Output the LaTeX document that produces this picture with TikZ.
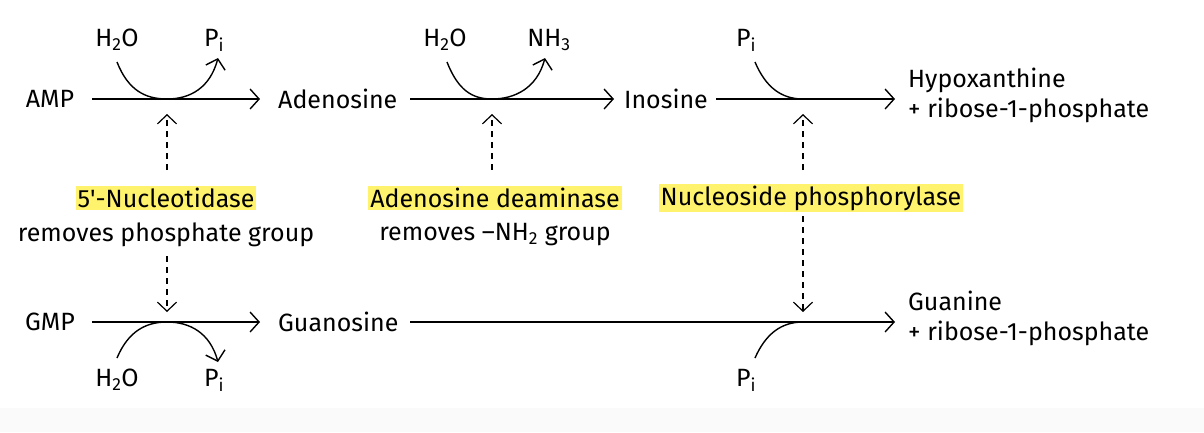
\documentclass[tikz,border=0pt]{standalone}
\usepackage{fontspec}
\setmainfont{Fira Sans}
\usetikzlibrary{arrows.meta}
\definecolor{hl}{HTML}{FFF36E}
\newcommand{\sbs}[1]{\textsubscript{#1}}
\begin{document}
\begin{tikzpicture}[x=1pt,y=-1pt,
  every node/.style={font=\fontsize{25}{30}\selectfont,inner sep=2pt},
  arr/.style={line width=1.4pt,-{Straight Barb[length=9pt,width=20pt,line width=1.4pt]}},
  ln/.style={line width=1.4pt},
  dsh/.style={line width=1.2pt,dash pattern=on 6pt off 5pt,-{Straight Barb[length=9pt,width=19pt,line width=1.2pt]}},
  hlb/.style={fill=hl,inner sep=2pt}]
\useasboundingbox (0,0) rectangle (1204,432);
\fill[white] (0,0) rectangle (1204,432);
\fill[black!2] (0,408) rectangle (1204,432);
% row 1
\node (amp) at (50,99) {AMP};
\node[anchor=west] (ado) at (276,99) {Adenosine};
\node[anchor=west] (ino) at (622,99) {Inosine};
\node[anchor=west,align=left] (hyp) at (906,95) {Hypoxanthine\\+ ribose-1-phosphate};
\coordinate (a1s) at (92,99); \coordinate (a1e) at (260,99);
\coordinate (a2s) at (410,99); \coordinate (a2e) at (614,99);
\coordinate (a3s) at (716,99); \coordinate (a3e) at (895,99);
\draw[arr] (a1s) -- (a1e);
\draw[arr] (a2s) -- (a2e);
\draw[arr] (a3s) -- (a3e);
\node (w1) at (117,40) {H\sbs{2}O};
\node (p1) at (214,40) {P\sbs{i}};
\coordinate (t1) at (167,99);
\draw[arr] (117,62) .. controls (128,90) and (145,99) .. (t1) .. controls (190,99) and (210,88) .. (218,58);
\node (w2) at (445,40) {H\sbs{2}O};
\node (n2) at (549,40) {NH\sbs{3}};
\coordinate (t2) at (492,99);
\draw[arr] (447,62) .. controls (458,90) and (472,99) .. (t2) .. controls (515,99) and (537,88) .. (545,58);
\node (p3) at (746,40) {P\sbs{i}};
\coordinate (t3) at (803,99);
\draw[ln] (755,62) .. controls (766,88) and (782,99) .. (t3);
% enzymes
\node[hlb] (e1) at (166,198) {5\textquotesingle-Nucleotidase};
\node (r1) at (166,235) {removes phosphate group};
\node[hlb] (e2) at (495,198) {Adenosine deaminase};
\node (r2) at (495,235) {removes –NH\sbs{2} group};
\node[hlb] (e3) at (811,198) {Nucleoside phosphorylase};
\draw[dsh] (167,170) -- (167,114);
\draw[dsh] (492,170) -- (492,114);
\draw[dsh] (803,170) -- (803,114);
\draw[dsh] (167,256) -- (167,312);
\draw[dsh] (803,216) -- (803,312);
% row 2
\node (gmp) at (50,322) {GMP};
\node[anchor=west] (guo) at (276,322) {Guanosine};
\node[anchor=west,align=left] (gua) at (906,318) {Guanine\\+ ribose-1-phosphate};
\coordinate (b1s) at (92,322); \coordinate (b1e) at (260,322);
\coordinate (b2s) at (410,322); \coordinate (b2e) at (895,322);
\draw[arr] (b1s) -- (b1e);
\draw[arr] (b2s) -- (b2e);
\node (w4) at (117,380) {H\sbs{2}O};
\node (p4) at (214,380) {P\sbs{i}};
\coordinate (t4) at (167,322);
\draw[arr] (117,358) .. controls (128,332) and (145,322) .. (t4) .. controls (190,322) and (210,333) .. (218,362);
\node (p5) at (746,380) {P\sbs{i}};
\coordinate (t5) at (803,322);
\draw[ln] (755,358) .. controls (766,333) and (782,322) .. (t5);
\end{tikzpicture}
\end{document}
